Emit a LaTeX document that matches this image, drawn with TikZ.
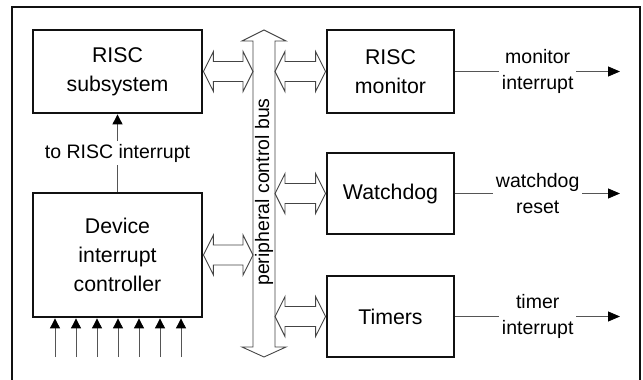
\documentclass[tikz,border=0pt]{standalone}
\usepackage{fontspec}
\setmainfont{Liberation Sans}
\usepackage{tikz}
\usetikzlibrary{arrows.meta,calc}
\definecolor{wiregrey}{HTML}{555555}
\definecolor{framegrey}{HTML}{111111}

% double headed bus connector between two points on the same height
\newcommand{\busconn}[2]{%
  \draw[busline] let \p1=(#1), \p2=(#2) in
    (\x1,\y1) -- (\x1+10pt,\y1+20pt) -- (\x1+10pt,\y1+10pt) -- (\x2-10pt,\y1+10pt)
    -- (\x2-10pt,\y1+20pt) -- (\x2,\y1) -- (\x2-10pt,\y1-20pt) -- (\x2-10pt,\y1-10pt)
    -- (\x1+10pt,\y1-10pt) -- (\x1+10pt,\y1-20pt) -- cycle;}

\tikzset{
  block/.style={draw=framegrey, line width=2.8pt, align=center, inner sep=0pt,
                font=\fontsize{21.3}{29}\selectfont},
  lbl/.style={align=center, fill=white, inner sep=2.5pt,
              font=\fontsize{19.5}{26}\selectfont},
  busline/.style={draw=wiregrey!80!black, line width=0.9pt, line join=miter},
  sigline/.style={draw=wiregrey, line width=0.9pt},
  outarrow/.style={sigline, -{Triangle[length=12pt,width=10pt,color=black]}},
  inarrow/.style={sigline, -{Triangle[length=10pt,width=10pt,color=black]}}
}

\begin{document}
\begin{tikzpicture}[x=1pt,y=-1pt]
  \useasboundingbox (0,0) rectangle (643,380);
  % outer frame (bottom edge is outside the picture)
  \draw[framegrey, line width=2.8pt] (12,380) -- (12,7) -- (640,7) -- (640,380);

  % blocks
  \node[block, minimum width=169, minimum height=83] (rsub) at (117.5,71.5) {RISC\\subsystem};
  \node[block, minimum width=169, minimum height=124] (dic) at (117.5,255) {Device\\interrupt\\controller};
  \node[block, minimum width=127, minimum height=83] (rmon) at (390.5,71.5) {RISC\\monitor};
  \node[block, minimum width=127, minimum height=81] (wdog) at (390.5,193.5) {Watchdog};
  \node[block, minimum width=127, minimum height=81] (tmr) at (390.5,316.5) {Timers};

  % peripheral control bus
  \coordinate (bustop) at (264,30);
  \coordinate (busL) at (253,0);
  \coordinate (busR) at (275,0);
  \draw[busline] (bustop) -- ++(22,11) -- ++(-11,0) -- ++(0,306) -- ++(11,0) -- ++(-22,10)
                 -- ++(-22,-10) -- ++(11,0) -- ++(0,-306) -- ++(-11,0) -- cycle;
  \node[rotate=90, inner sep=0pt, font=\fontsize{19.5}{24}\selectfont] (buslbl) at (264,192)
       {peripheral control bus};

  % bus connections
  \busconn{rsub.east}{rsub.east -| busL}
  \busconn{dic.east}{dic.east -| busL}
  \busconn{busR |- rmon.west}{rmon.west}
  \busconn{busR |- wdog.west}{wdog.west}
  \busconn{busR |- tmr.west}{tmr.west}

  % interrupt to RISC
  \draw[inarrow] (dic.north) -- node[lbl] (tolbl) {to RISC interrupt} (rsub.south);

  % device interrupt inputs
  \foreach \i in {0,...,6} {
    \coordinate (in\i) at (55+21*\i,357);
    \draw[inarrow] (in\i) -- (in\i |- dic.south);
  }

  % outputs
  \coordinate (rmonout) at (620,71.5);
  \coordinate (wdogout) at (620,193.5);
  \coordinate (tmrout) at (620,316.5);
  \draw[outarrow] (rmon.east) -- node[lbl] (rmonlbl) {monitor\\interrupt} (rmonout);
  \draw[outarrow] (wdog.east) -- node[lbl] (wdoglbl) {watchdog\\reset} (wdogout);
  \draw[outarrow] (tmr.east) -- node[lbl] (tmrlbl) {timer\\interrupt} (tmrout);
\end{tikzpicture}
\end{document}
